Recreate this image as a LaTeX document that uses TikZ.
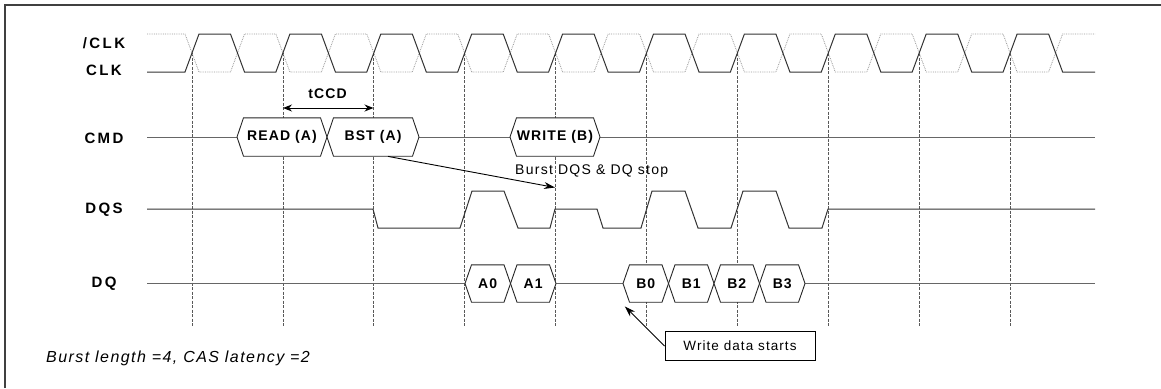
\documentclass[tikz,border=0pt]{standalone}
\usepackage{fontspec}
\setmainfont{Liberation Sans}
\usepackage{xcolor}
\usepackage{tikz}
\usetikzlibrary{calc, positioning, arrows.meta}

\tikzset{
    sigtext/.style={font=\fontsize{15}{17}\selectfont\bfseries\addfontfeature{LetterSpace=16}, inner sep=0},
    boxtext/.style={font=\fontsize{14}{16}\selectfont\bfseries\addfontfeature{LetterSpace=8}, inner sep=0},
    wave/.style={line width=1pt, draw=black!80},
    busline/.style={line width=1pt, draw=black!60},
    hexline/.style={line width=0.9pt, draw=black!85, fill=white},
    grid/.style={line width=0.8pt, draw=black!65, dash pattern=on 3pt off 1.5pt},
}

\begin{document}
\begin{tikzpicture}[x=1pt, y=-1pt]
        \useasboundingbox (0,0) rectangle (1161,388);

        % frame
        \draw[line width=2pt, black!75] (5,388) -- (5,4.5) -- (1161,4.5);

        % signal names
        \node[sigtext] (nclk) at (104,43) {/CLK};
        \node[sigtext] (clk) at (104,70) {CLK};
        \node[sigtext] (cmd) at (104,138) {CMD};
        \node[sigtext] (dqs) at (104,210) {DQS};
        \node[sigtext] (dq) at (104,284) {DQ};

        % clock edges
        \foreach \k in {0,...,9}
        {
            \draw[grid] ({192+\k*90.9},53) -- ({192+\k*90.9},327);
        }

        % /CLK and CLK
        \draw[line width=0.8pt, black!40, densely dotted] (147,34)
            \foreach \k in {0,...,9} { -- ({185+\k*90.9},34) -- ({199+\k*90.9},72) -- ({230.5+\k*90.9},72) -- ({244.5+\k*90.9},34) } -- (1095,34);
        \draw[wave] (147,72)
            \foreach \k in {0,...,9} { -- ({185+\k*90.9},72) -- ({199+\k*90.9},34) -- ({230.5+\k*90.9},34) -- ({244.5+\k*90.9},72) } -- (1095,72);

        % CMD and DQ lines
        \draw[busline] (147,137) -- (237,137) (419,137) -- (510,137) (600,137) -- (1095,137);
        \draw[busline] (147,283.5) -- (465,283.5) (555.5,283.5) -- (623,283.5) (805,283.5) -- (1095,283.5);

        % DQS
        \draw[wave] (147,209) -- (373,209) -- (378,228) -- (460,228) -- (472,191) -- (504,191) -- (518,228) -- (550,228) -- (555,209) -- (597,209) -- (603,228) -- (641,228) -- (652,191) -- (685,191) -- (698,228) -- (731,228) -- (743,191) -- (776,191) -- (789,228) -- (822,228) -- (828,209) -- (1095,209);

        % commands and data
        \foreach \nm/\cx/\cy/\hw/\hh/\txt in {rd/282/137/45/19.2/READ (A), bst/373/137/46/19.2/BST (A), wr/555/137/45/19.2/WRITE (B), a0/487.75/283.5/22.75/18.7/A0, a1/533.25/283.5/22.75/18.7/A1, b0/645.75/283.5/22.75/18.7/B0, b1/691.25/283.5/22.75/18.7/B1, b2/736.75/283.5/22.75/18.7/B2, b3/782.25/283.5/22.75/18.7/B3}
        {
            \filldraw[hexline] (\cx-\hw,\cy) -- (\cx-\hw+6.5,\cy-\hh) -- (\cx+\hw-6.5,\cy-\hh) -- (\cx+\hw,\cy) -- (\cx+\hw-6.5,\cy+\hh) -- (\cx-\hw+6.5,\cy+\hh) -- cycle;
            \node[boxtext, minimum width=2*\hw, minimum height=2*\hh] (\nm) at (\cx,\cy) {\txt};
        }

        % tCCD
        \coordinate (ccd1) at (283,108);
        \coordinate (ccd2) at (373.5,108);
        \draw[line width=1pt, {Stealth[length=9pt,width=7pt]}-{Stealth[length=9pt,width=7pt]}] (ccd1) -- (ccd2);
        \node[boxtext] (tccd) at (327.5,94) {tCCD};

        % burst stop
        \coordinate (dqsstop) at (555,187.5);
        \node[font=\fontsize{14}{16}\selectfont\addfontfeature{LetterSpace=9}, inner sep=0, anchor=west] (stop) at (515,171) {Burst DQS \& DQ stop};
        \draw[line width=0.9pt, -{Stealth[length=11pt,width=7pt]}] ($(bst.south)+(15,0)$) -- (dqsstop);

        % write data
        \node[draw, line width=0.9pt, minimum width=150pt, minimum height=28.5pt, inner sep=0, font=\fontsize{13.5}{16}\selectfont\addfontfeature{LetterSpace=8}] (wds) at (740,346) {Write data starts};
        \draw[line width=0.9pt, -{Stealth[length=11pt,width=7pt]}] (wds.west) -- ($(b0.south west)+(2,4)$);

        % note
        \node[font=\fontsize{16}{18}\selectfont\itshape\addfontfeature{LetterSpace=9}, inner sep=0, anchor=west] (note) at (46,358) {Burst length =4, CAS latency =2};
\end{tikzpicture}
\end{document}
